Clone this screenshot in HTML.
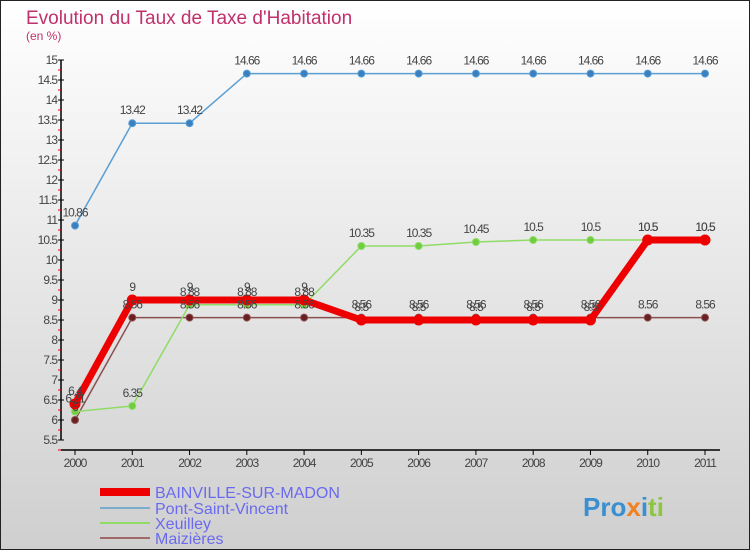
<!DOCTYPE html>
<html><head><meta charset="utf-8">
<style>
body{margin:0;}
#c{width:750px;height:550px;position:relative;font-family:"Liberation Sans",sans-serif;}
</style></head>
<body>
<div id="c">
<svg id="s" width="750" height="550" xmlns="http://www.w3.org/2000/svg">
<defs><linearGradient id="bg" x1="0" y1="0" x2="0" y2="1"><stop offset="0" stop-color="#ffffff"/><stop offset="1" stop-color="#cfcfcf"/></linearGradient></defs>
<rect x="0.5" y="0.5" width="749" height="549" fill="url(#bg)" stroke="#222"/>
<text x="26" y="24" font-size="19" fill="#c0306a">Evolution du Taux de Taxe d'Habitation</text>
<text x="26" y="40" font-size="12" fill="#c0306a">(en %)</text>
<g id="axes"></g><g id="series"></g><g id="labels"></g>
<g font-size="16">
<line x1="100" y1="492" x2="150" y2="492" stroke="#e00" stroke-width="8"/>
<text x="155" y="498" fill="#6a6af0">BAINVILLE-SUR-MADON</text>
<line x1="100" y1="508" x2="150" y2="508" stroke="#7aaccc" stroke-width="2"/>
<text x="155" y="514" fill="#6a6af0">Pont-Saint-Vincent</text>
<line x1="100" y1="523" x2="150" y2="523" stroke="#8fdc66" stroke-width="2"/>
<text x="155" y="529" fill="#6a6af0">Xeuilley</text>
<line x1="100" y1="538" x2="150" y2="538" stroke="#a06a6a" stroke-width="2"/>
<text x="155" y="544" fill="#6a6af0">Maizières</text>
</g>
<text x="583" y="516" font-size="26" font-weight="bold"><tspan fill="#3a8fd0">Pro</tspan><tspan fill="#f08020">x</tspan><tspan fill="#3a8fd0">i</tspan><tspan fill="#8cc63f">ti</tspan></text>
</svg>
</div>
<script>
const years=[2000,2001,2002,2003,2004,2005,2006,2007,2008,2009,2010,2011];
const bainville=[6.4,9,9,9,9,8.5,8.5,8.5,8.5,8.5,10.5,10.5];
const pont=[10.86,13.42,13.42,14.66,14.66,14.66,14.66,14.66,14.66,14.66,14.66,14.66];
const xeuilley=[6.21,6.35,8.88,8.88,8.88,10.35,10.35,10.45,10.5,10.5,10.5,10.5];
const maizieres=[6,8.56,8.56,8.56,8.56,8.56,8.56,8.56,8.56,8.56,8.56,8.56];
const yTicks=[5.5,6,6.5,7,7.5,8,8.5,9,9.5,10,10.5,11,11.5,12,12.5,13,13.5,14,14.5,15];
const NS="http://www.w3.org/2000/svg";
function X(i){return 75+i*(705-75)/(years.length-1);}
function Y(v){return 60+(15-v)*40;}
function mk(t,a,p){const e=document.createElementNS(NS,t);for(const k in a)e.setAttribute(k,a[k]);p.appendChild(e);return e;}
const ax=document.getElementById('axes'),sg=document.getElementById('series'),lg=document.getElementById('labels');
let l=mk('line',{x1:61,y1:Y(15),x2:61,y2:Y(5.5),stroke:'#000','stroke-width':1.5},ax);


l=mk('line',{x1:61,y1:450,x2:720,y2:450,stroke:'#000','stroke-width':1.5},ax);


yTicks.forEach(v=>{
 mk('line',{x1:58,y1:Y(v),x2:64,y2:Y(v),stroke:'#000'},ax);
 mk('line',{x1:58,y1:Y(v)+10,x2:61,y2:Y(v)+10,stroke:'#e00'},ax);
 const t=mk('text',{x:57,y:Y(v)+4,'font-size':12,'text-anchor':'end',fill:'#444','letter-spacing':'-1'},ax);
 t.textContent=String(v);
 
 
});
years.forEach((y,i)=>{
 mk('line',{x1:X(i),y1:450,x2:X(i),y2:455,stroke:'#000'},ax);
 const t=mk('text',{x:X(i),y:467,'font-size':12,'text-anchor':'middle',fill:'#444','letter-spacing':'-1'},ax);
 t.textContent=String(y);
 
 
});
function series(d,name,col,w,r,dot){
 const p=mk('polyline',{points:d.map((v,i)=>X(i)+','+Y(v)).join(' '),fill:'none',stroke:col,'stroke-width':w},sg);
 
 
 d.forEach((v,i)=>{
  const c=mk('circle',{cx:X(i),cy:Y(v),r:r,fill:dot,stroke:col},sg);
  
  
  const t=mk('text',{x:X(i),y:Y(v)-9,'font-size':12,'text-anchor':'middle',fill:'#444','letter-spacing':'-1'},lg);
  t.textContent=String(v);
  
  
 });
}
series(pont,'pont-saint-vincent','#5a9fd4',1.5,3.5,'#3a80c0');
series(maizieres,'maizieres','#8a5050',1.5,3.5,'#6a2020');
series(xeuilley,'xeuilley','#8fdc66',1.5,3.5,'#70cc40');
series(bainville,'bainville-sur-madon','#ee0000',7,5,'#ee0000');
</script>
</body></html>
